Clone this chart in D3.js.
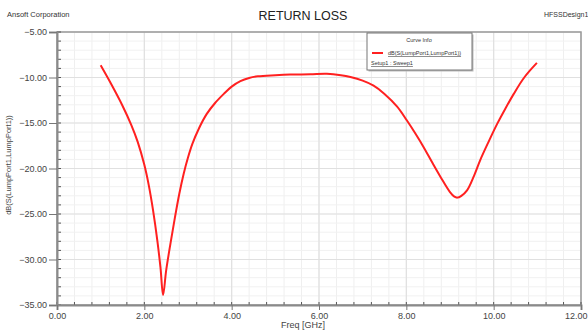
<!DOCTYPE html>
<html>
<head>
<meta charset="utf-8">
<script src="https://cdn.jsdelivr.net/npm/d3@7"></script>
<style>
  body { margin: 0; background: #fff; }
  text { font-family: "Liberation Sans", Arial, sans-serif; }
</style>
</head>
<body>
<div id="chart"></div>
<script>
// values
const freq = [1.0, 1.25, 1.5, 1.7, 1.85, 2.0, 2.1, 2.2, 2.3, 2.37, 2.43, 2.5, 2.6, 2.7, 2.8, 2.9, 3.0, 3.1, 3.25, 3.43,
  3.62, 3.82, 4.0, 4.2, 4.4, 4.6, 5.0, 5.34, 5.8, 6.18, 6.5, 6.72, 7.0, 7.25, 7.5, 7.79, 8.01, 8.2, 8.39, 8.6,
  8.78, 9.0, 9.1, 9.17, 9.26, 9.39, 9.55, 9.69, 9.88, 10.08, 10.27, 10.46, 10.7, 10.99];
const s11 = [-8.66, -10.8, -13.1, -15.2, -17.1, -19.6, -21.8, -24.6, -28.0, -30.9, -33.9, -31.2, -28.2, -25.4, -22.8, -20.6, -18.8, -17.3, -15.6, -14.0,
  -12.8, -11.8, -11.0, -10.4, -10.05, -9.87, -9.75, -9.68, -9.65, -9.6, -9.75, -9.95, -10.35, -10.9, -11.8, -13.2, -14.7, -16.1, -17.6, -19.4,
  -20.9, -22.6, -23.1, -23.2, -23.0, -22.4, -20.8, -19.1, -17.1, -15.1, -13.4, -11.8, -10.0, -8.4];
const xTicks = [0, 2, 4, 6, 8, 10, 12];
const yTicks = [-5, -10, -15, -20, -25, -30, -35];

const W = 588, H = 332;
const pLeft = 57, pRight = 581, pTop = 32, pBottom = 305;

const svg = d3.select("#chart").append("svg")
  .attr("width", W).attr("height", H);

const x = d3.scaleLinear().domain([0, 12]).range([pLeft, pRight]);
const y = d3.scaleLinear().domain([-35, -5]).range([pBottom, pTop]);

// grid
const g = svg.append("g");
g.selectAll(".vmin").data(d3.range(0, 12.01, 0.4))
  .enter().append("line")
  .attr("x1", d => x(d)).attr("x2", d => x(d))
  .attr("y1", pTop).attr("y2", pBottom)
  .attr("stroke", "#efefef").attr("stroke-width", 1);
g.selectAll(".hmin").data(d3.range(-35, -4.99, 1))
  .enter().append("line")
  .attr("x1", pLeft).attr("x2", pRight)
  .attr("y1", d => y(d)).attr("y2", d => y(d))
  .attr("stroke", "#f1f1f1").attr("stroke-width", 1);
g.selectAll(".vmaj").data(xTicks)
  .enter().append("line")
  .attr("x1", d => x(d)).attr("x2", d => x(d))
  .attr("y1", pTop).attr("y2", pBottom)
  .attr("stroke", "#e0e0e0").attr("stroke-width", 1.2);
g.selectAll(".hmaj").data(yTicks)
  .enter().append("line")
  .attr("x1", pLeft).attr("x2", pRight)
  .attr("y1", d => y(d)).attr("y2", d => y(d))
  .attr("stroke", "#e0e0e0").attr("stroke-width", 1.2);

// frame
svg.append("rect")
  .attr("x", pLeft).attr("y", pTop)
  .attr("width", pRight - pLeft).attr("height", pBottom - pTop)
  .attr("fill", "none").attr("stroke", "#9a9a9a").attr("stroke-width", 1.5);

// minor ticks inside axes
svg.selectAll(".ymt").data(d3.range(-35, -4.99, 1))
  .enter().append("line")
  .attr("x1", pLeft).attr("x2", pLeft + 4)
  .attr("y1", d => y(d)).attr("y2", d => y(d))
  .attr("stroke", "#555").attr("stroke-width", 1);
svg.selectAll(".xmt").data(d3.range(0, 12.01, 0.4))
  .enter().append("line")
  .attr("x1", d => x(d)).attr("x2", d => x(d))
  .attr("y1", pBottom).attr("y2", pBottom - 3)
  .attr("stroke", "#555").attr("stroke-width", 1);

// axes
const yAxis = d3.axisLeft(y).tickValues(yTicks).tickSize(8).tickPadding(2)
  .tickFormat(d3.format(".2f"));
const xAxis = d3.axisBottom(x).tickValues(xTicks).tickSize(5).tickPadding(3)
  .tickFormat(d3.format(".2f"));

const ya = svg.append("g").attr("transform", `translate(${pLeft},0)`).call(yAxis);
const xa = svg.append("g").attr("transform", `translate(0,${pBottom})`).call(xAxis);
[ya, xa].forEach(a => {
  a.select(".domain").attr("stroke", "#8a8a8a").attr("stroke-width", 2);
  a.selectAll(".tick line").attr("stroke", "#777");
  a.selectAll(".tick text").attr("fill", "#444").attr("font-size", 9)
    .attr("font-family", "Liberation Sans, Arial, sans-serif");
});
// keep the last x label inside the window
xa.selectAll(".tick text").filter(d => d === 12)
  .attr("text-anchor", "end").attr("dx", 6);

// curve
const line = d3.line()
  .x((d, i) => x(freq[i]))
  .y(d => y(d))
  .curve(d3.curveCatmullRom.alpha(0.5));
svg.append("path")
  .datum(s11)
  .attr("d", line)
  .attr("fill", "none")
  .attr("stroke", "#ff2020")
  .attr("stroke-width", 2);

// titles
svg.append("text").attr("x", 303).attr("y", 20)
  .attr("text-anchor", "middle").attr("font-size", 12.5).attr("fill", "#222")
  .text("RETURN LOSS");
svg.append("text").attr("x", 7).attr("y", 17)
  .attr("font-size", 7.5).attr("fill", "#333")
  .text("Ansoft Corporation");
svg.append("text").attr("x", 544).attr("y", 17)
  .attr("font-size", 7).attr("fill", "#333")
  .text("HFSSDesign1");
svg.append("text").attr("x", 303).attr("y", 328)
  .attr("text-anchor", "middle").attr("font-size", 9).attr("fill", "#444")
  .text("Freq [GHz]");
svg.append("text")
  .attr("transform", "translate(11,165) rotate(-90)")
  .attr("text-anchor", "middle").attr("font-size", 7.5).attr("fill", "#444")
  .text("dB(S(LumpPort1,LumpPort1))");

// legend
const lg = svg.append("g").attr("transform", "translate(367,33)");
lg.append("rect").attr("x", 1.5).attr("y", 1.5).attr("width", 105).attr("height", 37)
  .attr("fill", "#bbb");
lg.append("rect").attr("width", 105).attr("height", 37)
  .attr("fill", "#fff").attr("stroke", "#777").attr("stroke-width", 1);
lg.append("text").attr("x", 52).attr("y", 9)
  .attr("text-anchor", "middle").attr("font-size", 5.5).attr("fill", "#333")
  .text("Curve Info");
lg.append("line").attr("x1", 5).attr("x2", 16).attr("y1", 20).attr("y2", 20)
  .attr("stroke", "#ff2020").attr("stroke-width", 2);
lg.append("text").attr("x", 21).attr("y", 22)
  .attr("font-size", 5.5).attr("fill", "#333").attr("text-decoration", "underline")
  .text("dB(S(LumpPort1,LumpPort1))");
lg.append("text").attr("x", 4).attr("y", 32)
  .attr("font-size", 5.5).attr("fill", "#333").attr("text-decoration", "underline")
  .text("Setup1 : Sweep1");
</script>
</body>
</html>
